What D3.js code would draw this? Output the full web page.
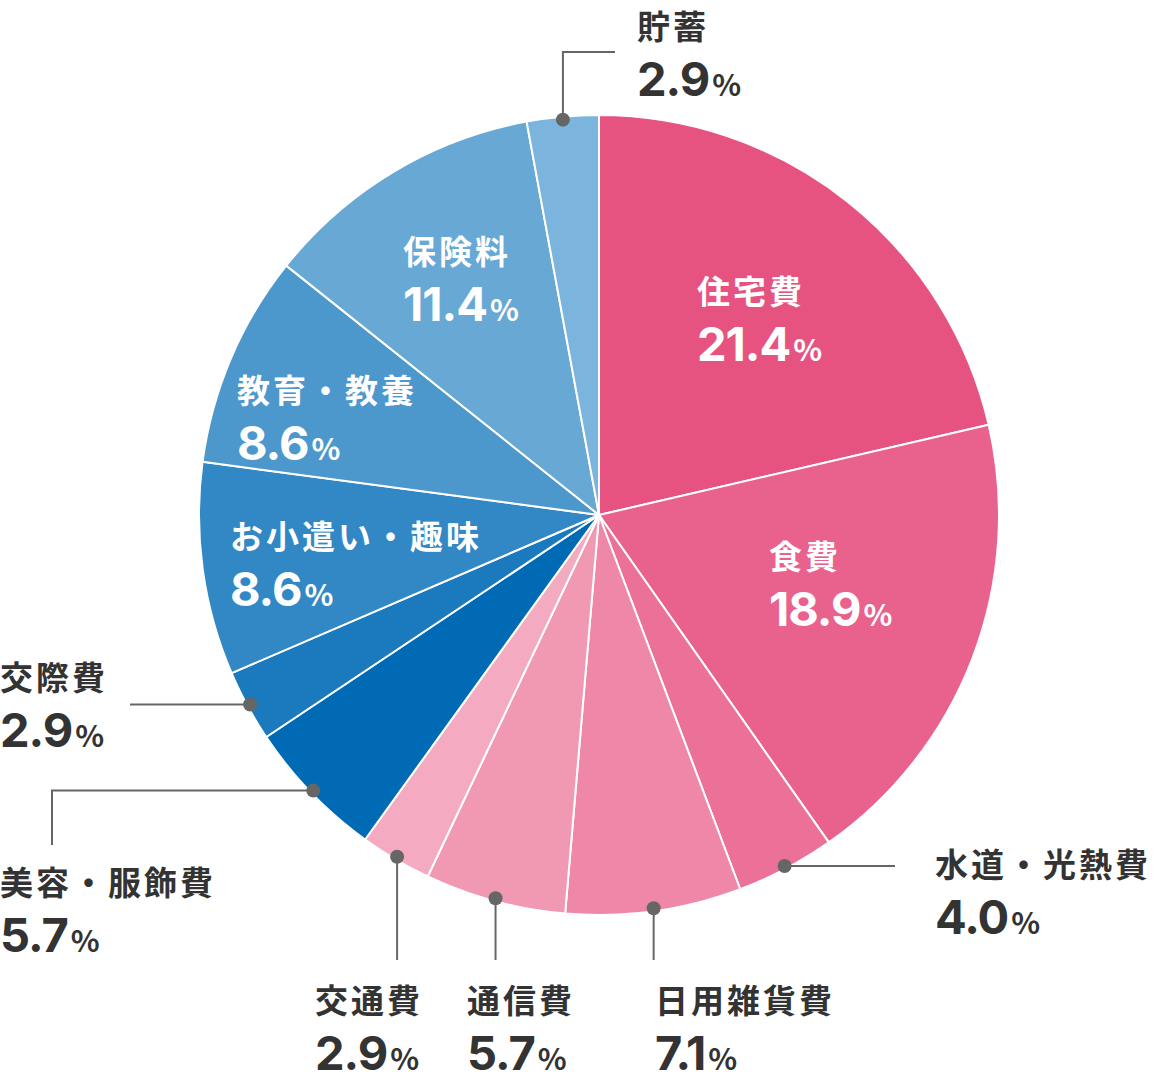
<!DOCTYPE html>
<html><head><meta charset="utf-8">
<script src="https://cdn.jsdelivr.net/npm/d3@7"></script>
<style>
html,body{margin:0;padding:0;background:#fff;}
svg{display:block;}
.nm{font-family:"Noto Sans CJK JP","Noto Sans",sans-serif;font-weight:700;font-size:33px;letter-spacing:3px;}
.num{font-family:Inter,"Noto Sans CJK JP",sans-serif;font-weight:700;font-size:47px;letter-spacing:-1px;}
.pct{font-family:"Noto Sans CJK JP",sans-serif;font-size:30px;letter-spacing:0;}
</style></head><body>
<svg id="c" width="1160" height="1080"></svg>
<script>
const categories = ["住宅費","食費","水道・光熱費","日用雑貨費","通信費","交通費","美容・服飾費","交際費","お小遣い・趣味","教育・教養","保険料","貯蓄"];
const values = [21.4,18.9,4.0,7.1,5.7,2.9,5.7,2.9,8.6,8.6,11.4,2.9];
const labels = ["21.4","18.9","4.0","7.1","5.7","2.9","5.7","2.9","8.6","8.6","11.4","2.9"];
const colors = ["#E75381","#E8628D","#EC7199","#EF87A8","#F198B3","#F4AAC0","#006AB4","#1B7ABD","#3287C5","#4C98CD","#67A8D5","#7BB4DC"];

// label layout: name baseline position; outside labels get a leader path (waypoints, null = keep previous)
const layout = [
  {inside:true, x:697, y:304},
  {inside:true, x:769, y:569},
  {inside:false, x:935, y:877, leader:[[895,null]]},
  {inside:false, x:655, y:1013, leader:[[null,960]]},
  {inside:false, x:467, y:1013, leader:[[null,960]]},
  {inside:false, x:315, y:1013, leader:[[null,960]]},
  {inside:false, x:0, y:895, leader:[[52,null],[52,845]]},
  {inside:false, x:0, y:690, leader:[[130,null]]},
  {inside:true, x:230, y:549},
  {inside:true, x:237, y:403},
  {inside:true, x:403, y:264},
  {inside:false, x:637, y:39, leader:[[null,52],[615,52]]}
];

const svg = d3.select("#c");
const cx = 599, cy = 515, R = 400;
const g = svg.append("g").attr("transform",`translate(${cx},${cy})`);
const pie = d3.pie().sort(null).value(d=>d)(values);
const arc = d3.arc().innerRadius(0).outerRadius(R);
g.selectAll("path.s").data(pie).join("path").attr("class","s")
  .attr("d",arc).attr("fill",(d,i)=>colors[i]).attr("stroke","#fff").attr("stroke-width",2).attr("stroke-linejoin","round");

pie.forEach((d,i)=>{
  const L = layout[i];
  const col = L.inside ? "#fff" : "#333";
  if(!L.inside){
    const a = (d.startAngle+d.endAngle)/2;
    const px = cx + (R-3)*Math.sin(a), py = cy - (R-3)*Math.cos(a);
    let pts=[[px,py]];
    let last=[px,py];
    L.leader.forEach(p=>{
      const nx = p[0]===null?last[0]:p[0];
      const ny = p[1]===null?last[1]:p[1];
      last=[nx,ny]; pts.push(last);
    });
    svg.append("path").attr("d",d3.line()(pts)).attr("fill","none").attr("stroke","#666").attr("stroke-width",2);
    svg.append("circle").attr("cx",px).attr("cy",py).attr("r",7).attr("fill","#666");
  }
  svg.append("text").attr("class","nm").attr("x",L.x).attr("y",L.y).attr("fill",col).text(categories[i]);
  const t = svg.append("text").attr("class","num").attr("x",L.x).attr("y",L.y+57).attr("fill",col);
  t.append("tspan").text(labels[i]);
  t.append("tspan").attr("class","pct").attr("dx",3).text("%");
});
</script>
</body></html>
